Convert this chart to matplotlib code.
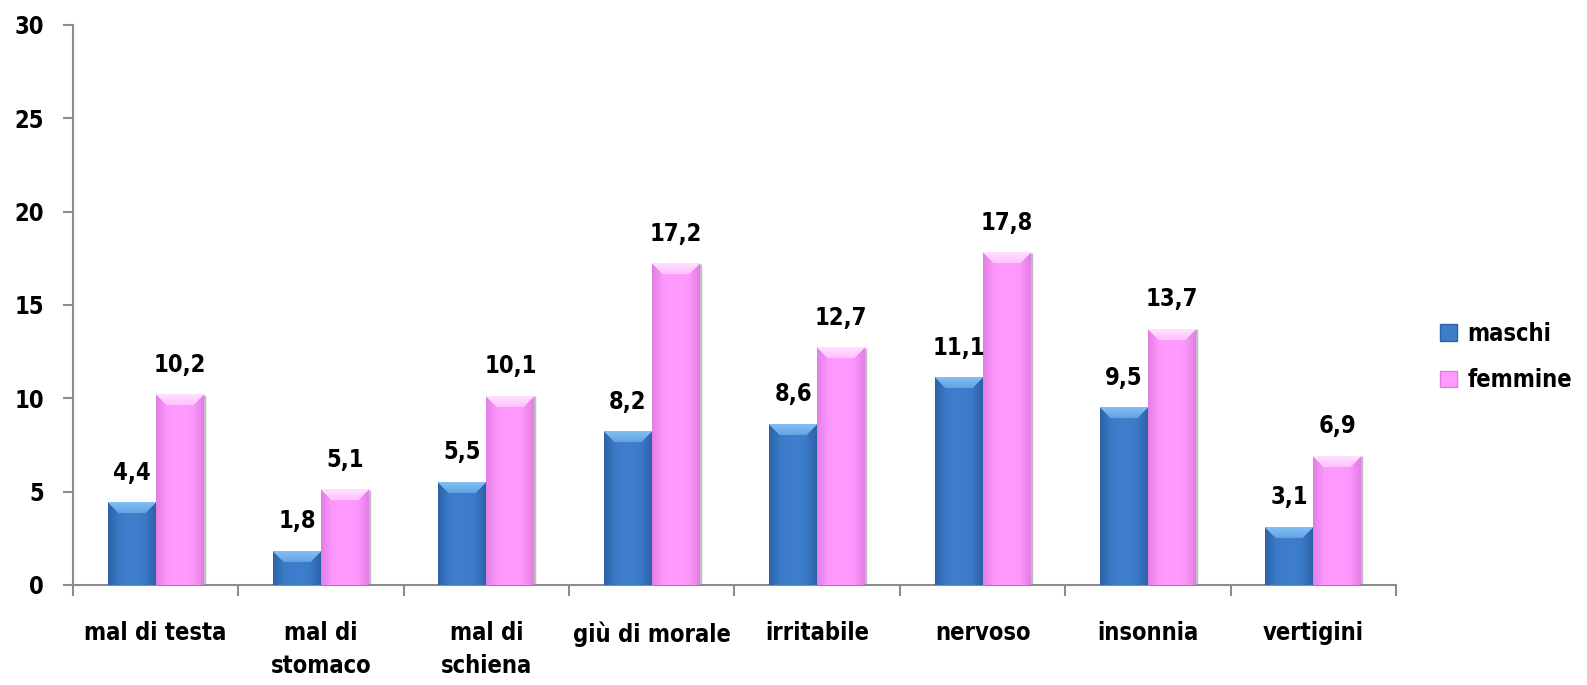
import numpy as np
import matplotlib
matplotlib.use("Agg")
import matplotlib.pyplot as plt
from matplotlib.patches import Patch

categories = ["mal di testa", "mal di\nstomaco", "mal di\nschiena", "giù di morale",
              "irritabile", "nervoso", "insonnia", "vertigini"]
maschi = [4.4, 1.8, 5.5, 8.2, 8.6, 11.1, 9.5, 3.1]
femmine = [10.2, 5.1, 10.1, 17.2, 12.7, 17.8, 13.7, 6.9]
series_names = ["maschi", "femmine"]
yticks = [0, 5, 10, 15, 20, 25, 30]

plt.rcParams["font.family"] = ["DejaVu Sans"]
plt.rcParams["font.weight"] = "bold"
plt.rcParams["font.stretch"] = "condensed"
FS = 17

# base, side-edge and top-bevel colours for each series
palettes = {
    "maschi": dict(base=(62, 126, 204), side=(38, 88, 156), top=(130, 192, 245)),
    "femmine": dict(base=(255, 155, 255), side=(218, 116, 222), top=(255, 225, 255)),
}

fig = plt.figure(figsize=(15.87, 6.85), dpi=100)
ax = fig.add_axes([73 / 1587, 100 / 685, (1396 - 73) / 1587, (585 - 25) / 685])

x = np.arange(len(categories))
w = 0.29
bars_m = ax.bar(x - w / 2, maschi, w, color="#3E7CC8", zorder=2)
bars_f = ax.bar(x + w / 2, femmine, w, color="#FF9BFF", zorder=2)

ax.set_xlim(-0.5, len(categories) - 0.5)
ax.set_ylim(0, 30)
ax.set_yticks(yticks)
ax.set_yticklabels([str(t) for t in yticks], fontsize=FS)

# boundary ticks between groups, labels centred on groups
ax.set_xticks(np.arange(len(categories) + 1) - 0.5)
ax.set_xticklabels([])
ax.set_xticks(x, minor=True)
ax.set_xticklabels(categories, minor=True, fontsize=FS, multialignment="center",
                   linespacing=1.45)
ax.tick_params(axis="x", which="major", length=8, width=1.5, color="#8c8c8c", direction="out")
ax.tick_params(axis="x", which="minor", length=0, pad=26)
ax.tick_params(axis="y", length=7, width=1.5, color="#8c8c8c", pad=14, direction="out")

for s in ("top", "right"):
    ax.spines[s].set_visible(False)
for s in ("left", "bottom"):
    ax.spines[s].set_color("#8c8c8c")
    ax.spines[s].set_linewidth(1.5)


def bevel_image(wpx, hpx, pal, b=11):
    base = np.array(pal["base"], float) / 255
    side = np.array(pal["side"], float) / 255
    top = np.array(pal["top"], float) / 255
    U, V = np.meshgrid(np.arange(wpx) + 0.5, np.arange(hpx) + 0.5)
    dside = np.minimum(U, wpx - U)
    dt = V
    # soft horizontal shading of the face
    t = np.abs(U / wpx - 0.5) * 2
    k = (0.35 * t ** 2)[..., None]
    face = base * (1 - k) + side * k
    img = face.copy()
    bb = min(b, wpx / 3, max(hpx / 2, 1))
    in_top = (dt < bb) & (dt <= dside)
    in_side = (dside < bb) & ~in_top
    # sides: darker at the outer edge
    s = (1 - dside / bb)[..., None]
    side_col = face * (1 - 0.6 * s) + side * (0.6 * s)
    img[in_side] = side_col[in_side]
    # top: light band fading towards the face
    tt = (1 - dt / bb)[..., None]
    top_col = base * (1 - (0.55 + 0.45 * tt)) + top * (0.55 + 0.45 * tt)
    img[in_top] = top_col[in_top]
    # outermost pixel on each side a touch darker
    edge = dside < 1.5
    img[edge] = img[edge] * 0.85 + side * 0.15
    return np.clip(img, 0, 1)


fig.canvas.draw()
for bars, name in ((bars_m, "maschi"), (bars_f, "femmine")):
    pal = palettes[name]
    for rect in bars:
        x0, y0 = rect.get_x(), rect.get_y()
        x1, y1 = x0 + rect.get_width(), y0 + rect.get_height()
        p0 = ax.transData.transform((x0, y0))
        p1 = ax.transData.transform((x1, y1))
        wpx = max(int(round(p1[0] - p0[0])), 1)
        hpx = max(int(round(p1[1] - p0[1])), 1)
        img = bevel_image(wpx, hpx, pal)
        ax.imshow(img, extent=(x0, x1, y0, y1), aspect="auto", zorder=3,
                  interpolation="bilinear", origin="upper")
        # soft shadow along the right side
        ax.plot([x1, x1], [y0, y1], color="#c4bcc4", lw=2.5, zorder=2.5,
                solid_capstyle="butt")

ax.set_xlim(-0.5, len(categories) - 0.5)
ax.set_ylim(0, 30)

for bars, vals in ((bars_m, maschi), (bars_f, femmine)):
    for rect, v in zip(bars, vals):
        ax.annotate(f"{v:.1f}".replace(".", ","),
                    (rect.get_x() + rect.get_width() / 2, v),
                    xytext=(0, 13), textcoords="offset points",
                    ha="center", va="bottom", fontsize=FS, zorder=5)

handles = [Patch(facecolor="#3E7CC8", edgecolor="#2F62A8"),
           Patch(facecolor="#FF9BFF", edgecolor="#D784D7")]
fig.legend(handles, series_names, loc="center left", bbox_to_anchor=(1419 / 1587, 1 - 357 / 685),
           frameon=False, fontsize=FS, handlelength=0.7, handleheight=0.7,
           handletextpad=0.45, labelspacing=0.95)

fig.savefig("out.png", dpi=100, facecolor="white")
